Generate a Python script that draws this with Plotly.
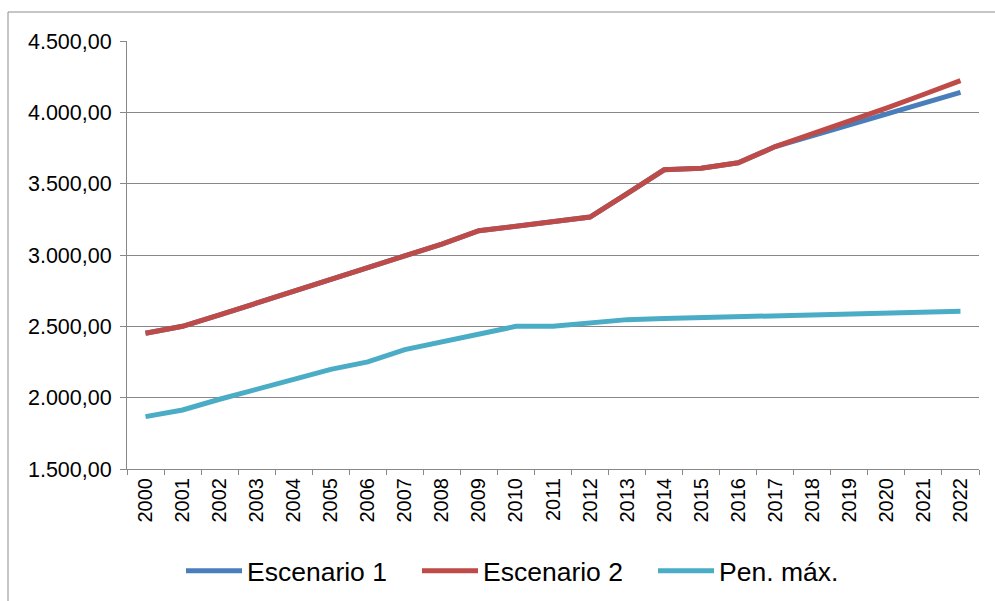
import plotly.graph_objects as go

years = [str(y) for y in range(2000, 2023)]

escenario_1 = [2451, 2500, 2580, 2662, 2745, 2828, 2912, 2998, 3077, 3170,
               3204, 3235, 3266, 3430, 3597, 3608, 3646, 3760, 3835, 3910,
               3983, 4062, 4140]
escenario_2 = [2451, 2500, 2580, 2662, 2745, 2828, 2912, 2998, 3077, 3170,
               3204, 3235, 3266, 3430, 3597, 3608, 3646, 3760, 3848, 3938,
               4030, 4125, 4222]
pen_max = [1867, 1914, 1989, 2054, 2128, 2198, 2251, 2337, 2390, 2444,
           2500, 2500, 2523, 2547, 2555, 2561, 2567, 2573, 2579, 2585,
           2592, 2598, 2605]

series_names = ["Escenario 1", "Escenario 2", "Pen. máx."]
series_colors = ["#4A7EBB", "#BE4B48", "#4BACC6"]

W, H = 995, 601
L, R, T, B = 127, 16, 41, 132

fig = go.Figure()
for name, vals, col in zip(series_names, [escenario_1, escenario_2, pen_max], series_colors):
    fig.add_trace(go.Scatter(
        x=years, y=vals, name=name, mode="lines",
        line=dict(color=col, width=5),
    ))

grid_col = "#888888"
font_fam = "Liberation Sans, Arial, sans-serif"

plot_w = W - L - R
plot_h = H - T - B

fig.update_layout(
    width=W, height=H,
    margin=dict(l=L, r=R, t=T, b=B, autoexpand=False),
    paper_bgcolor="white", plot_bgcolor="white",
    separators=",.",
    font=dict(family=font_fam, color="#000000", size=20),
    showlegend=True,
    legend=dict(
        orientation="h", x=(181 - L) / plot_w, xanchor="left",
        y=(H - B - 571) / plot_h, yanchor="middle",
        font=dict(size=26.5, family=font_fam),
        itemwidth=56, entrywidth=165, entrywidthmode="pixels",
        tracegroupgap=0, bgcolor="rgba(0,0,0,0)",
    ),
    xaxis=dict(
        type="category", tickangle=-90, showgrid=False,
        showline=True, linecolor=grid_col, linewidth=1,
        ticks="outside", tickson="boundaries", ticklen=5, tickcolor=grid_col,
        tickfont=dict(size=20), range=[-0.5, 22.5],
    ),
    yaxis=dict(
        range=[1500, 4500], dtick=500, tick0=1500, tickformat=",.2f",
        showgrid=True, gridcolor=grid_col, gridwidth=1,
        showline=True, linecolor=grid_col, linewidth=1,
        ticks="outside", ticklen=6, tickcolor=grid_col,
        tickfont=dict(size=21.5), zeroline=False, ticklabelstandoff=4,
    ),
    shapes=[dict(
        type="rect", xref="paper", yref="paper",
        x0=(8 - L) / plot_w, x1=1.3,
        y0=-0.6, y1=1 + (T - 12) / plot_h,
        line=dict(color="#8C8C8C", width=1), fillcolor="rgba(0,0,0,0)",
        layer="below",
    )],
)

fig.write_html("out.html")
